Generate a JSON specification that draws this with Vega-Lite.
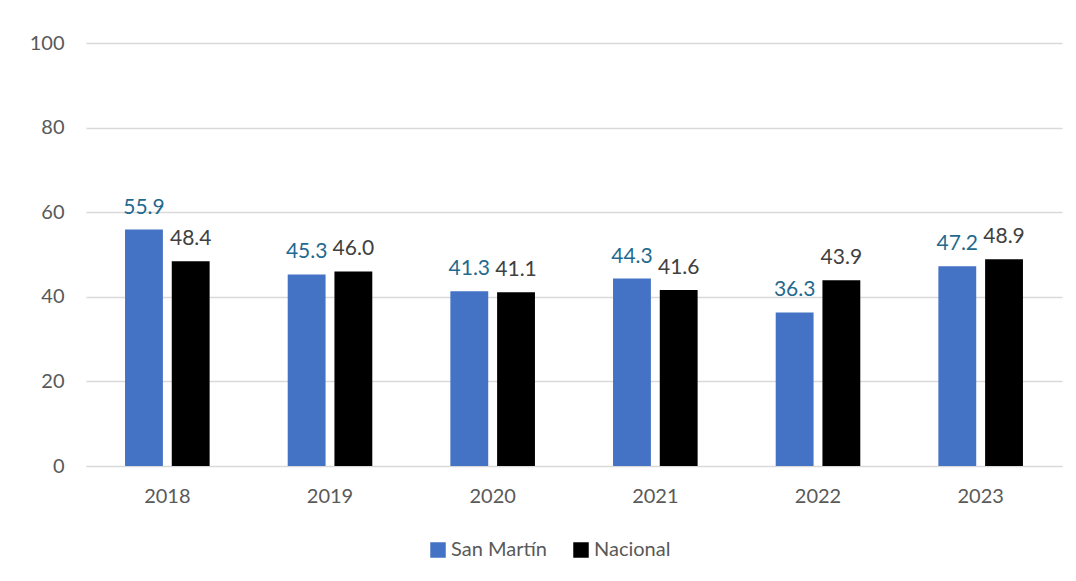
{
  "$schema": "https://vega.github.io/schema/vega-lite/v6.json",
  "width": 976,
  "height": 423,
  "autosize": {"type": "none"},
  "padding": {"left": 86, "top": 43, "right": 14, "bottom": 115},
  "background": "white",
  "config": {
    "font": "Lato",
    "view": {"stroke": null},
    "axis": {"labelFont": "Lato", "labelColor": "#595959", "labelFontSize": 20},
    "legend": {"labelFont": "Lato", "labelColor": "#595959", "labelFontSize": 20}
  },
  "data": {
    "values": [
      {"anio": "2018", "serie": "San Martín", "valor": 55.9},
      {"anio": "2018", "serie": "Nacional", "valor": 48.4},
      {"anio": "2019", "serie": "San Martín", "valor": 45.3},
      {"anio": "2019", "serie": "Nacional", "valor": 46.0},
      {"anio": "2020", "serie": "San Martín", "valor": 41.3},
      {"anio": "2020", "serie": "Nacional", "valor": 41.1},
      {"anio": "2021", "serie": "San Martín", "valor": 44.3},
      {"anio": "2021", "serie": "Nacional", "valor": 41.6},
      {"anio": "2022", "serie": "San Martín", "valor": 36.3},
      {"anio": "2022", "serie": "Nacional", "valor": 43.9},
      {"anio": "2023", "serie": "San Martín", "valor": 47.2},
      {"anio": "2023", "serie": "Nacional", "valor": 48.9}
    ]
  },
  "encoding": {
    "x": {
      "field": "anio", "type": "nominal", "title": null,
      "scale": {"paddingInner": 0.48, "paddingOuter": 0.24},
      "axis": {"labelAngle": 0, "ticks": false, "domain": true, "domainColor": "#d9d9d9", "labelPadding": 20}
    },
    "xOffset": {
      "field": "serie", "type": "nominal",
      "sort": ["San Martín", "Nacional"],
      "scale": {"paddingInner": 0.19, "paddingOuter": 0}
    },
    "y": {
      "field": "valor", "type": "quantitative", "title": null,
      "scale": {"domain": [0, 100]},
      "axis": {"values": [0, 20, 40, 60, 80, 100], "ticks": false, "domain": false, "gridColor": "#d9d9d9", "gridWidth": 1.5, "labelPadding": 22}
    }
  },
  "layer": [
    {
      "mark": {"type": "bar"},
      "encoding": {
        "color": {
          "field": "serie", "type": "nominal",
          "scale": {"domain": ["San Martín", "Nacional"], "range": ["#4472C4", "#000000"]},
          "legend": {
            "title": null, "orient": "none", "direction": "horizontal",
            "legendX": 342, "legendY": 497,
            "symbolType": "square", "symbolSize": 240, "symbolStrokeWidth": 0,
            "columnPadding": 24, "labelOffset": 3
          }
        }
      }
    },
    {
      "mark": {"type": "text", "baseline": "bottom", "dy": -12, "fontSize": 21},
      "encoding": {
        "text": {"field": "valor", "type": "quantitative", "format": ".1f"},
        "color": {
          "condition": {"test": "datum.serie === 'San Martín'", "value": "#1F6A8E"},
          "value": "#404040"
        }
      }
    }
  ]
}
